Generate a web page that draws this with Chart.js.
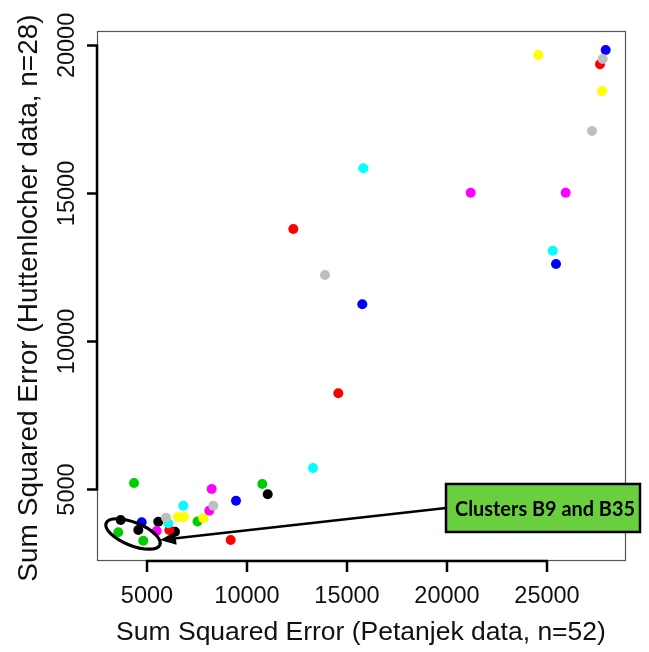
<!DOCTYPE html>
<html>
<head>
<meta charset="utf-8">
<script src="https://cdn.jsdelivr.net/npm/chart.js@4/dist/chart.umd.min.js"></script>
<style>
html,body{margin:0;padding:0;background:#ffffff;}
#wrap{width:649px;height:652px;position:relative;}
</style>
</head>
<body>
<div id="wrap"><canvas id="c"></canvas></div>
<script>
// ---- Data (x = Petanjek SSE, y = Huttenlocher SSE) ----
const xBlack   = [3685, 5565, 6400, 4565, 11035];
const yBlack   = [3970, 3912, 3574, 3632, 4838];
const xRed     = [6115, 9185, 14565, 12315, 27650];
const yRed     = [3632, 3294, 8250, 13800, 19363];
const xGreen   = [4350, 7525, 3565, 4815, 10765];
const yGreen   = [5220, 3919, 3554, 3270, 5186];
const xBlue    = [4735, 9450, 15765, 25450, 27935];
const yBlue    = [3892, 4622, 11256, 12617, 19846];
const xCyan    = [6815, 6065, 13300, 15815, 25285];
const yCyan    = [4453, 3858, 5726, 15850, 13067];
const xMagenta = [5485, 8235, 8115, 21185, 25935];
const yMagenta = [3598, 5017, 4284, 15026, 15026];
const xYellow  = [6550, 6850, 7815, 24565, 27750];
const yYellow  = [4071, 4071, 4027, 19678, 18461];
const xGray    = [5950, 8315, 13900, 27785, 27250];
const yGray    = [4047, 4453, 12246, 19542, 17110];

const xTicks = [5000, 10000, 15000, 20000, 25000];
const yTicks = [5000, 10000, 15000, 20000];
const xTitle = "Sum Squared Error (Petanjek data, n=52)";
const yTitle = "Sum Squared Error (Huttenlocher data, n=28)";
const calloutText = "Clusters B9 and B35";
// annotation anchors in data units
const ellipseCenter = [4300, 3497];
const arrowTip = [5650, 3294];
const calloutAnchor = [19950, 4375];

const seriesNames = ["black","red","green","blue","cyan","magenta","yellow","gray"];
const seriesX = [xBlack, xRed, xGreen, xBlue, xCyan, xMagenta, xYellow, xGray];
const seriesY = [yBlack, yRed, yGreen, yBlue, yCyan, yMagenta, yYellow, yGray];
const seriesColors = ["#000000","#FF0000","#00CD00","#0000FF","#00FFFF","#FF00FF","#FFFF00","#BEBEBE"];

const datasets = seriesNames.map((n, i) => ({
  label: n,
  data: seriesX[i].map((x, j) => ({x: x, y: seriesY[i][j]})),
  backgroundColor: seriesColors[i],
  borderColor: seriesColors[i],
  borderWidth: 0,
  pointRadius: 5,
  pointHoverRadius: 5,
  order: seriesNames.length - i
}));

const FONT = '"Liberation Sans", Arial, sans-serif';

const decor = {
  id: 'decor',
  beforeDatasetsDraw(chart) {
    const ctx = chart.ctx, a = chart.chartArea;
    ctx.save();
    ctx.strokeStyle = '#555555';
    ctx.lineWidth = 1.2;
    ctx.strokeRect(a.left + 0.5, a.top + 0.5, a.right - a.left, a.bottom - a.top);
    ctx.restore();
  },
  afterDatasetsDraw(chart) {
    const ctx = chart.ctx, a = chart.chartArea;
    const xs = chart.scales.x, ys = chart.scales.y;
    ctx.save();
    // x axis
    ctx.strokeStyle = '#000';
    ctx.lineWidth = 2.5;
    ctx.lineCap = 'butt';
    const xb = a.bottom + 1;
    ctx.beginPath();
    ctx.moveTo(xs.getPixelForValue(xTicks[0]) - 1, xb);
    ctx.lineTo(xs.getPixelForValue(xTicks[xTicks.length-1]) + 1, xb);
    xTicks.forEach(t => {
      const px = xs.getPixelForValue(t);
      ctx.moveTo(px, xb);
      ctx.lineTo(px, xb + 11);
    });
    ctx.stroke();
    // y axis
    const yl = a.left;
    ctx.beginPath();
    ctx.moveTo(yl, ys.getPixelForValue(yTicks[0]) + 1);
    ctx.lineTo(yl, ys.getPixelForValue(yTicks[yTicks.length-1]) - 1);
    yTicks.forEach(t => {
      const py = ys.getPixelForValue(t);
      ctx.moveTo(yl, py);
      ctx.lineTo(yl - 10, py);
    });
    ctx.stroke();
    // tick labels
    ctx.fillStyle = '#111';
    ctx.font = '23.5px ' + FONT;
    ctx.textAlign = 'center';
    ctx.textBaseline = 'middle';
    xTicks.forEach(t => ctx.fillText(String(t), xs.getPixelForValue(t), 597));
    yTicks.forEach(t => {
      ctx.save();
      ctx.translate(68, ys.getPixelForValue(t));
      ctx.rotate(-Math.PI/2);
      ctx.fillText(String(t), 0, 0);
      ctx.restore();
    });
    // titles
    ctx.font = '26.5px ' + FONT;
    ctx.fillText(xTitle, (a.left + a.right)/2, 633);
    ctx.save();
    ctx.translate(29, 298);
    ctx.rotate(-Math.PI/2);
    ctx.font = '28px ' + FONT;
    ctx.fillText(yTitle, 0, 0);
    ctx.restore();

    // ellipse around clusters
    const ex = xs.getPixelForValue(ellipseCenter[0]);
    const ey = ys.getPixelForValue(ellipseCenter[1]);
    ctx.beginPath();
    ctx.ellipse(ex, ey, 29, 11.5, 22 * Math.PI/180, 0, Math.PI*2);
    ctx.lineWidth = 3.2;
    ctx.strokeStyle = '#000';
    ctx.stroke();

    // callout box + arrow
    const bx = xs.getPixelForValue(calloutAnchor[0]);
    const by = ys.getPixelForValue(calloutAnchor[1]);
    const tx = xs.getPixelForValue(arrowTip[0]);
    const ty = ys.getPixelForValue(arrowTip[1]);
    const ang = Math.atan2(by - ty, bx - tx);
    const headLen = 16, headHalf = 6.5;
    const baseX = tx + headLen * Math.cos(ang), baseY = ty + headLen * Math.sin(ang);
    ctx.beginPath();
    ctx.moveTo(bx, by);
    ctx.lineTo(baseX, baseY);
    ctx.lineWidth = 2.5;
    ctx.stroke();
    ctx.beginPath();
    ctx.moveTo(tx, ty);
    ctx.lineTo(baseX - headHalf * Math.sin(ang), baseY + headHalf * Math.cos(ang));
    ctx.lineTo(baseX + headHalf * Math.sin(ang), baseY - headHalf * Math.cos(ang));
    ctx.closePath();
    ctx.fillStyle = '#000';
    ctx.fill();

    const bw = 194, bh = 48;
    ctx.fillStyle = '#6ACF3E';
    ctx.fillRect(bx, by - bh/2, bw, bh);
    ctx.lineWidth = 2.5;
    ctx.strokeStyle = '#000';
    ctx.strokeRect(bx, by - bh/2, bw, bh);
    ctx.fillStyle = '#000';
    ctx.font = 'bold 21px Lato, "Open Sans", sans-serif';
    const w = ctx.measureText(calloutText).width;
    const sx = Math.min(1, 180 / w);
    ctx.save();
    ctx.translate(bx + 9, by + 1);
    ctx.scale(sx, 1);
    ctx.textAlign = 'left';
    ctx.fillText(calloutText, 0, 0);
    ctx.restore();
    ctx.restore();
  }
};

new Chart(document.getElementById('c'), {
  type: 'scatter',
  data: { datasets: datasets },
  options: {
    responsive: true,
    maintainAspectRatio: false,
    animation: false,
    events: [],
    layout: { padding: { left: 97, right: 24, top: 31, bottom: 92 } },
    plugins: { legend: { display: false }, tooltip: { enabled: false } },
    scales: {
      x: { type: 'linear', display: false, min: 2500, max: 28900 },
      y: { type: 'linear', display: false, min: 2618, max: 20488 }
    }
  },
  plugins: [decor]
});
</script>
</body>
</html>
